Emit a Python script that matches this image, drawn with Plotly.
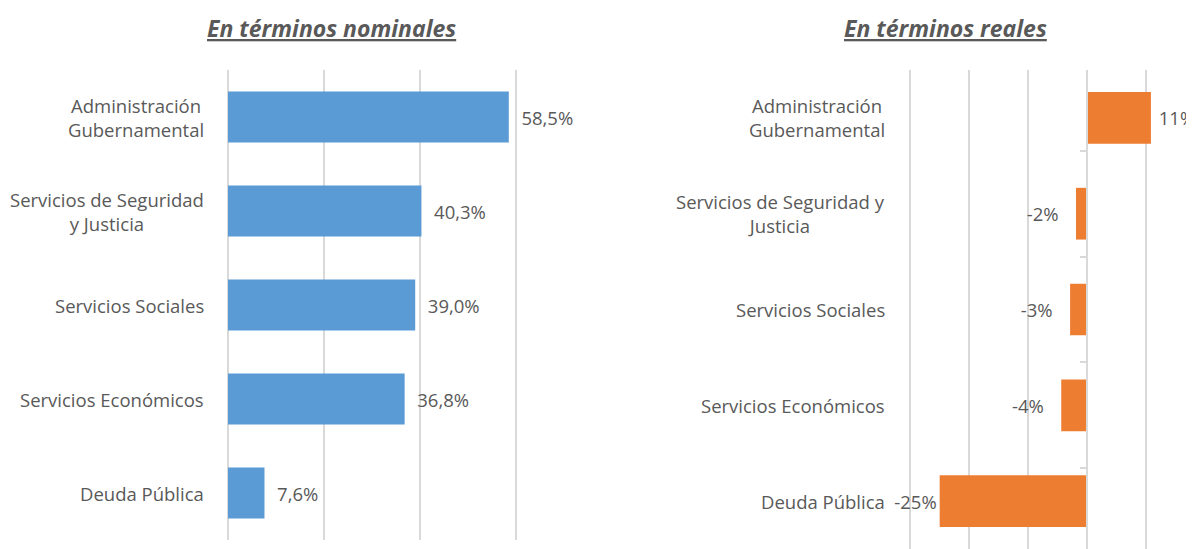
import plotly.graph_objects as go

# Data
categories = ["Administración Gubernamental", "Servicios de Seguridad y Justicia",
              "Servicios Sociales", "Servicios Económicos", "Deuda Pública"]
labels_nominal = ["Administración<br>Gubernamental", "Servicios de Seguridad<br>y Justicia",
                  "Servicios Sociales", "Servicios Económicos", "Deuda Pública"]
labels_real = ["Administración<br>Gubernamental", "Servicios de Seguridad y<br>Justicia",
               "Servicios Sociales", "Servicios Económicos", "Deuda Pública"]
nominal = [58.5, 40.3, 39.0, 36.8, 7.6]
real = [10.8, -1.9, -2.9, -4.4, -25.0]

BLUE = "#5B9BD5"
ORANGE = "#ED7D31"
GRID = "#D9D9D9"
TEXT = "#595959"
FONT = "Open Sans"

# the page puts the figure 8px in from the top-left corner
OFF = 8
FW, FH = 1194 - OFF, 549 - OFF


def px_x(p):
    return (p - OFF) / FW


def px_y(p):
    return 1 - (p - OFF) / FH


left_x = [px_x(228), px_x(612)]
left_y = [px_y(540), px_y(70)]
right_x = [px_x(909), 1.0]
right_y = [0.0, px_y(70)]
right_range = [-30.2, 18.1]

fig = go.Figure()

fig.add_trace(go.Bar(
    x=nominal, y=categories, orientation="h",
    marker=dict(color=BLUE, line=dict(width=0)),
    texttemplate="\u00a0\u00a0%{x:.1f}%", textposition="outside",
    textfont=dict(size=18.5, color=TEXT, family=FONT),
    xaxis="x", yaxis="y", showlegend=False, hoverinfo="skip",
))

real_templates = ["\u00a0%{x:.0f}%" if v > 0 else
                  "%{x:.0f}%" + ("\u00a0\u00a0\u00a0" if v > -10 else "")
                  for v in real]
fig.add_trace(go.Bar(
    x=real, y=categories, orientation="h",
    marker=dict(color=ORANGE, line=dict(width=0)),
    texttemplate=real_templates, textposition="outside", cliponaxis=False,
    textfont=dict(size=18.5, color=TEXT, family=FONT),
    xaxis="x2", yaxis="y2", showlegend=False, hoverinfo="skip",
))

# invisible trace so the zero-crossing category axis gets its ticks
fig.add_trace(go.Scatter(
    x=real, y=categories, mode="markers", marker=dict(opacity=0),
    xaxis="x2", yaxis="y3", showlegend=False, hoverinfo="skip",
))

zero_pos = right_x[0] + (0 - right_range[0]) / (right_range[1] - right_range[0]) * (right_x[1] - right_x[0])

fig.update_layout(
    width=FW, height=FH,
    margin=dict(l=0, r=0, t=0, b=0),
    paper_bgcolor="white", plot_bgcolor="white",
    separators=",.",
    bargap=0.46,
    font=dict(family=FONT, color=TEXT, size=18.5),
    xaxis=dict(domain=left_x, range=[0, 80], dtick=20, showticklabels=False,
               showgrid=True, gridcolor=GRID, gridwidth=1.5,
               zeroline=True, zerolinecolor=GRID, zerolinewidth=1.5,
               anchor="y", fixedrange=True),
    yaxis=dict(domain=left_y, type="category", categoryorder="array",
               categoryarray=categories, autorange="reversed",
               showticklabels=False, showgrid=False, zeroline=False,
               anchor="x"),
    xaxis2=dict(domain=right_x, range=right_range, dtick=10, showticklabels=False,
                showgrid=True, gridcolor=GRID, gridwidth=1.5,
                zeroline=False, anchor="y2"),
    yaxis2=dict(domain=right_y, type="category", categoryorder="array",
                categoryarray=categories, autorange="reversed",
                showticklabels=False, showgrid=False, zeroline=False,
                anchor="x2"),
    yaxis3=dict(overlaying="y2", anchor="free", position=zero_pos, side="left",
                type="category", categoryorder="array", categoryarray=categories,
                autorange="reversed", showticklabels=False, showgrid=False,
                zeroline=False, showline=True, linecolor=GRID, linewidth=1.5,
                ticks="outside", tickson="boundaries", ticklen=6,
                tickcolor=GRID, tickwidth=1.5),
)

# category labels, centred line by line like the original
label_font = dict(size=18.5, color=TEXT, family=FONT)
for cat, lab in zip(categories, labels_nominal):
    fig.add_annotation(x=0, xref="x domain", y=cat, yref="y", text=lab,
                       xanchor="right", xshift=-22, align="center",
                       showarrow=False, font=label_font)
for cat, lab in zip(categories, labels_real):
    fig.add_annotation(x=0, xref="x2 domain", y=cat, yref="y2", text=lab,
                       xanchor="right", xshift=-22, align="center",
                       showarrow=False, font=label_font)

# panel titles
title_font = dict(size=23, color=TEXT, family=FONT, weight="bold",
                  style="italic", lineposition="under")
fig.add_annotation(x=px_x(331), y=px_y(28), xref="paper", yref="paper",
                   text="En términos nominales", showarrow=False,
                   xanchor="center", yanchor="middle", font=title_font)
fig.add_annotation(x=px_x(945), y=px_y(28), xref="paper", yref="paper",
                   text="En términos reales", showarrow=False,
                   xanchor="center", yanchor="middle", font=title_font)

fig.write_html("out.html")
